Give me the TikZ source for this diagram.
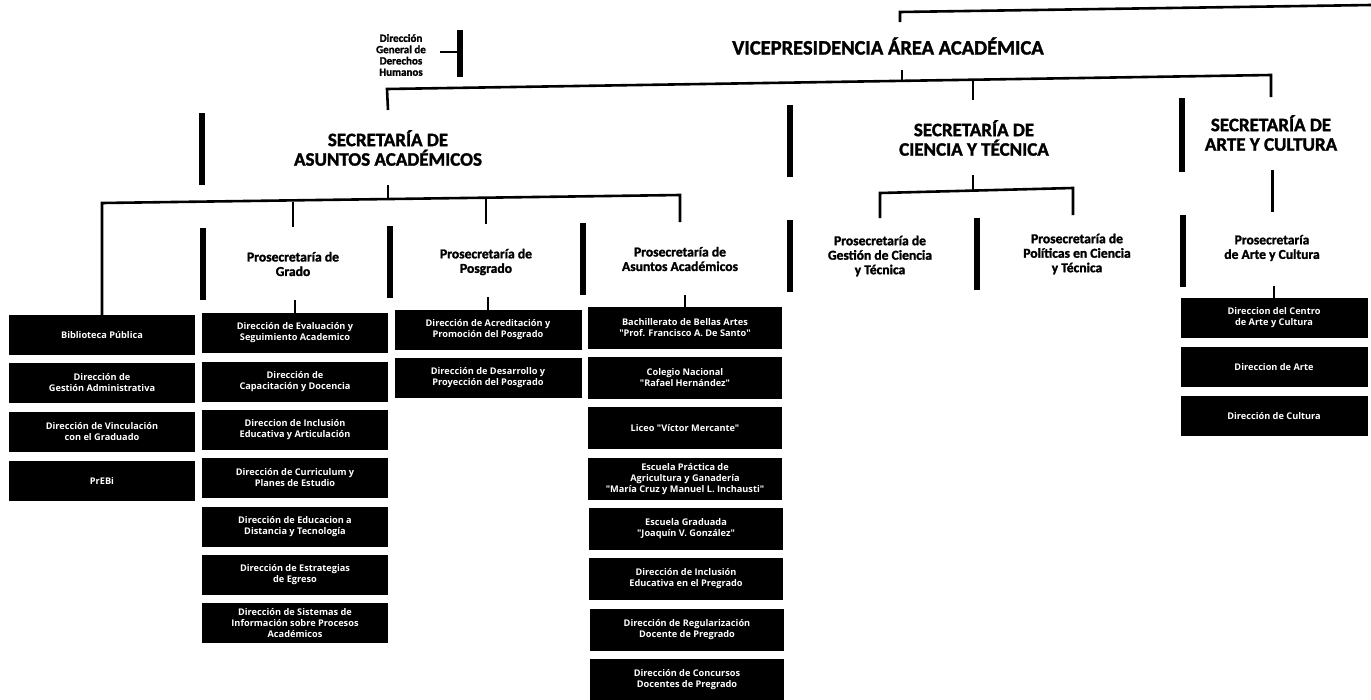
\documentclass[tikz,border=0pt]{standalone}
\usepackage{fontspec}
\newfontfamily\titlefont{Carlito}[BoldFeatures={FakeBold=1.6}]
\newfontfamily\boxfont{Open Sans}
\begin{document}
\begin{tikzpicture}[x=1pt,y=-1pt,
  conn/.style={line width=2.6pt},
  bar/.style={line width=6.5pt},
  dbox/.style={fill=black, text=white, inner sep=0pt, minimum height=40pt, align=center,
    font=\boxfont\bfseries\fontsize{9.2}{11}\selectfont},
  sec/.style={align=center, inner sep=0pt, font=\titlefont\bfseries\fontsize{19}{19.5}\selectfont},
  pro/.style={align=center, inner sep=0pt, font=\titlefont\bfseries\fontsize{13.6}{14.5}\selectfont},
  tiny/.style={align=center, inner sep=0pt, font=\titlefont\bfseries\fontsize{11}{11.3}\selectfont}]
\useasboundingbox (0,0) rectangle (1371,699);

% ---------- titles ----------
\node[sec, font=\titlefont\bfseries\fontsize{20.5}{20}\selectfont] (vp) at (888,46) {VICEPRESIDENCIA ÁREA ACADÉMICA};
\node[tiny] (dh) at (401,55) {Dirección\\General de\\Derechos\\Humanos};
\node[sec] (saa) at (388,148) {SECRETARÍA DE\\ASUNTOS ACADÉMICOS};
\node[sec] (sct) at (974,138) {SECRETARÍA DE\\CIENCIA Y TÉCNICA};
\node[sec] (sac) at (1271,133) {SECRETARÍA DE\\ARTE Y CULTURA};

\node[pro] (pgr) at (293,264) {Prosecretaría de\\Grado};
\node[pro] (ppo) at (486,262) {Prosecretaría de\\Posgrado};
\node[pro] (paa) at (680,259) {Prosecretaría de\\Asuntos Académicos};
\node[pro] (pgc) at (880,256) {Prosecretaría de\\Gestión de Ciencia\\y Técnica};
\node[pro] (ppc) at (1077,254) {Prosecretaría de\\Políticas en Ciencia\\y Técnica};
\node[pro] (pac) at (1272,248) {Prosecretaría\\de Arte y Cultura};

% ---------- boxes ----------
\begin{scope}[every node/.append style={dbox, minimum width=186pt}]
\node (a1) at (102,335) {Biblioteca Pública};
\node (a2) at (102,383) {Dirección de\\Gestión Administrativa};
\node (a3) at (102,432) {Dirección de Vinculación\\con el Graduado};
\node (a4) at (102,481) {PrEBi};
\end{scope}

\begin{scope}[every node/.append style={dbox, minimum width=186pt}]
\node (g1) at (295,333) {Dirección de Evaluación y\\Seguimiento Academico};
\node (g2) at (295,382) {Dirección de\\Capacitación y Docencia};
\node (g3) at (295,430) {Direccion de Inclusión\\Educativa y Articulación};
\node (g4) at (295,478) {Dirección de Curriculum y\\Planes de Estudio};
\node (g5) at (295,527) {Dirección de Educacion a\\Distancia y Tecnología};
\node (g6) at (295,575) {Dirección de Estrategias\\de Egreso};
\node (g7) at (295,623) {Dirección de Sistemas de\\Información sobre Procesos\\Académicos};
\end{scope}

\begin{scope}[every node/.append style={dbox, minimum width=187pt}]
\node (p1) at (488,330) {Dirección de Acreditación y\\Promoción del Posgrado};
\node (p2) at (488,378) {Dirección de Desarrollo y\\Proyección del Posgrado};
\end{scope}

\begin{scope}[every node/.append style={dbox, minimum width=194pt, minimum height=42pt}]
\node (s1) at (685,328) {Bachillerato de Bellas Artes\\"Prof. Francisco A. De Santo"};
\node (s2) at (685,378) {Colegio Nacional\\"Rafael Hernández"};
\node (s3) at (685,428) {Liceo "Víctor Mercante"};
\node (s4) at (685,479) {Escuela Práctica de\\Agricultura y Ganadería\\"María Cruz y Manuel L. Inchausti"};
\node (s5) at (686,529) {Escuela Graduada\\"Joaquín V. González"};
\node (s6) at (686,579) {Dirección de Inclusión\\Educativa en el Pregrado};
\node (s7) at (687,630) {Dirección de Regularización\\Docente de Pregrado};
\node (s8) at (687,680) {Dirección de Concursos\\Docentes de Pregrado};
\end{scope}

\begin{scope}[every node/.append style={dbox, minimum width=187pt}]
\node (c1) at (1274,318) {Direccion del Centro\\de Arte y Cultura};
\node (c2) at (1274,367) {Direccion de Arte};
\node (c3) at (1274,416) {Dirección de Cultura};
\end{scope}

% ---------- connectors ----------
% top of the chart
\coordinate (vpT) at (900,22);
\coordinate (topK) at (900,12);
\coordinate (topE) at (1371,5);
\draw[conn] (vpT) -- (topK) -- (topE);

% vicepresidency to the three secretariats
\coordinate (mL) at (387,89);
\coordinate (mR) at (1271,75);
\coordinate (vpB) at (902,70);
\coordinate (vpJ) at (902,80.8);
\coordinate (mM) at (973,79.7);
\draw[conn] (vpB) -- (vpJ);
\draw[conn] (saa.north |- 0,110) -- (mL) -- (mR) -- (1271,97);
\draw[conn] (mM) -- (973,100);

% human rights office
\coordinate (dhT) at (440,52);
\draw[conn] (dhT) -- (457,52);
\draw[bar] (460,30) -- (460,77);

% academic affairs branch
\coordinate (aL) at (98,203);
\coordinate (aR) at (680,195);
\draw[conn] (388,185) -- (388,199.5);
\draw[conn] (a1.north) -- (a1.north |- aL) -- (aR) -- (680,222);
\draw[conn] (293,201.7) -- (293,227);
\draw[conn] (486,198.5) -- (486,224);
\draw[conn] (g1.north) -- ++(0,-13);
\draw[conn] (p1.north) -- ++(0,-13);
\draw[conn] (s1.north) -- ++(0,-12);

% science and technology branch
\coordinate (tL) at (880,193);
\coordinate (tR) at (1073,188);
\draw[conn] (973,175) -- (973,190.6);
\draw[conn] (880,218) -- (tL) -- (tR) -- (1073,215);

% art and culture branch
\draw[line width=3pt] (1272,170) -- (1272,212);
\draw[conn] (c1.north) -- ++(0,-12);

% heavy separator bars
\draw[bar] (202,113) -- (202,185);
\draw[bar] (203,228) -- (203,300);
\draw[bar] (390,226) -- (390,298);
\draw[bar] (583,223) -- (583,295);
\draw[bar] (790,105) -- (790,177);
\draw[bar] (790,220) -- (790,292);
\draw[bar] (977,218) -- (977,290);
\draw[bar] (1182,98) -- (1182,172);
\draw[bar] (1183,215) -- (1183,287);
\end{tikzpicture}
\end{document}
